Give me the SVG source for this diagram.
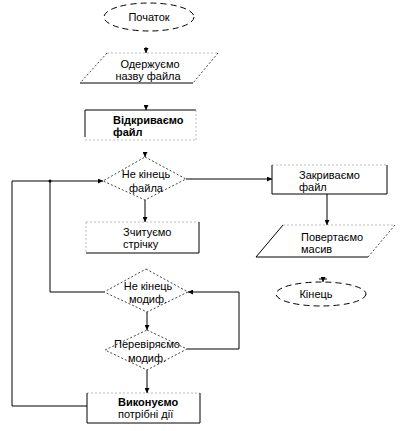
<svg xmlns="http://www.w3.org/2000/svg" width="403" height="431" viewBox="0 0 403 431">
<defs>
<marker id="ah" viewBox="0 0 8 8" refX="8" refY="4" markerWidth="5" markerHeight="5" orient="auto" markerUnits="userSpaceOnUse">
<path d="M0,0 L8,4 L0,8 z" fill="#000"/>
</marker>
</defs>
<style>
text{font-family:"Liberation Sans",Arial,sans-serif;font-size:11px;fill:#000}
.b{font-weight:bold}
.dash{fill:none;stroke:#000;stroke-width:1;stroke-dasharray:6,4}
.dot{fill:none;stroke:#444;stroke-width:1;stroke-dasharray:2,2}
.lt{fill:none;stroke:#bbb;stroke-width:1;stroke-dasharray:2,2}
.sol{fill:none;stroke:#000;stroke-width:1}
.con{fill:none;stroke:#000;stroke-width:1}
</style>
<rect width="403" height="431" fill="#fff"/>
<g id="start">
<ellipse cx="149" cy="17" rx="45" ry="14" class="dash"/>
<text x="149" y="21" text-anchor="middle">Початок</text>
</g>
<g id="read-name">
<line x1="107" y1="53" x2="218" y2="53" class="lt"/>
<line x1="107" y1="53" x2="80" y2="83" class="dot"/>
<line x1="218" y1="53" x2="193" y2="83" class="dot"/>
<line x1="80" y1="83" x2="193" y2="83" class="sol"/>
<text x="150" y="68" text-anchor="middle">Одержуємо</text>
<text x="148" y="80" text-anchor="middle">назву файла</text>
</g>
<g id="open-file">
<line x1="85" y1="110" x2="196" y2="110" class="sol"/>
<line x1="85" y1="110" x2="85" y2="137" class="sol"/>
<line x1="196" y1="110" x2="196" y2="140" class="lt"/>
<line x1="85" y1="140" x2="196" y2="140" class="lt"/>
<text x="113" y="124" class="b">Відкриваємо</text>
<text x="113" y="136" class="b">файл</text>
</g>
<g id="not-eof">
<polygon points="145,157 186,179 145,200 103,181" class="dot"/>
<text x="146" y="178" text-anchor="middle">Не кінець</text>
<text x="146" y="192" text-anchor="middle">файла</text>
</g>
<g id="read-line">
<line x1="86" y1="222" x2="199" y2="222" class="lt"/>
<line x1="86" y1="222" x2="86" y2="253" class="lt"/>
<line x1="199" y1="222" x2="199" y2="253" class="sol"/>
<line x1="86" y1="253" x2="199" y2="253" class="sol"/>
<text x="123" y="236">Зчитуємо</text>
<text x="123" y="248">стрічку</text>
</g>
<g id="not-end-mod">
<polygon points="146,269 188,292 147,312 104,292" class="dot"/>
<text x="148" y="290" text-anchor="middle">Не кінець</text>
<text x="148" y="303" text-anchor="middle">модиф.</text>
</g>
<g id="check-mod">
<polygon points="147,330 187,349 147,370 105,350" class="dot"/>
<text x="147" y="348" text-anchor="middle">Перевіряємо</text>
<text x="147" y="362" text-anchor="middle">модиф.</text>
</g>
<g id="do-actions">
<line x1="87" y1="393" x2="200" y2="393" class="lt"/>
<line x1="87" y1="393" x2="87" y2="423" class="sol"/>
<line x1="200" y1="393" x2="200" y2="423" class="sol"/>
<line x1="87" y1="423" x2="200" y2="423" class="sol"/>
<text x="118" y="406" class="b">Виконуємо</text>
<text x="118" y="418">потрібні дії</text>
</g>
<g id="close-file">
<line x1="272" y1="165" x2="387" y2="165" class="lt"/>
<line x1="272" y1="165" x2="272" y2="194" class="sol"/>
<line x1="387" y1="165" x2="387" y2="194" class="sol"/>
<line x1="272" y1="194" x2="387" y2="194" class="sol"/>
<text x="299" y="179">Закриваємо</text>
<text x="299" y="191">файл</text>
</g>
<g id="return-array">
<line x1="283" y1="225" x2="395" y2="225" class="lt"/>
<line x1="283" y1="225" x2="256" y2="257" class="sol"/>
<line x1="395" y1="225" x2="368" y2="257" class="dot"/>
<line x1="256" y1="257" x2="368" y2="257" class="sol"/>
<text x="301" y="241">Повертаємо</text>
<text x="301" y="253">масив</text>
</g>
<g id="end">
<ellipse cx="321" cy="294" rx="45" ry="12" class="dash"/>
<text x="316" y="298" text-anchor="middle">Кінець</text>
</g>
<g id="connectors">
<line x1="146" y1="47" x2="146" y2="53" class="con" marker-end="url(#ah)"/>
<line x1="146" y1="105" x2="146" y2="110" class="con" marker-end="url(#ah)"/>
<line x1="145" y1="152" x2="145" y2="157" class="con" marker-end="url(#ah)"/>
<line x1="323" y1="277" x2="323" y2="282" class="con" marker-end="url(#ah)"/>
<line x1="319" y1="279" x2="327" y2="279" class="con"/>
<line x1="145" y1="200" x2="145" y2="222" class="con" marker-end="url(#ah)"/>
<line x1="186" y1="179" x2="272" y2="179" class="con" marker-end="url(#ah)"/>
<line x1="327" y1="194" x2="327" y2="225" class="con" marker-end="url(#ah)"/>
<line x1="147" y1="312" x2="147" y2="330" class="con" marker-end="url(#ah)"/>
<line x1="147" y1="370" x2="147" y2="393" class="con" marker-end="url(#ah)"/>
<polyline points="187,349 239,349 239,292 188,292" class="con" marker-end="url(#ah)"/>
<polyline points="104,292 50,292 50,181" class="con"/>
<polyline points="87,406 12,406 12,181 103,181" class="con" marker-end="url(#ah)"/>
<circle cx="50" cy="181" r="1.5" fill="#000"/>
</g>
</svg>
